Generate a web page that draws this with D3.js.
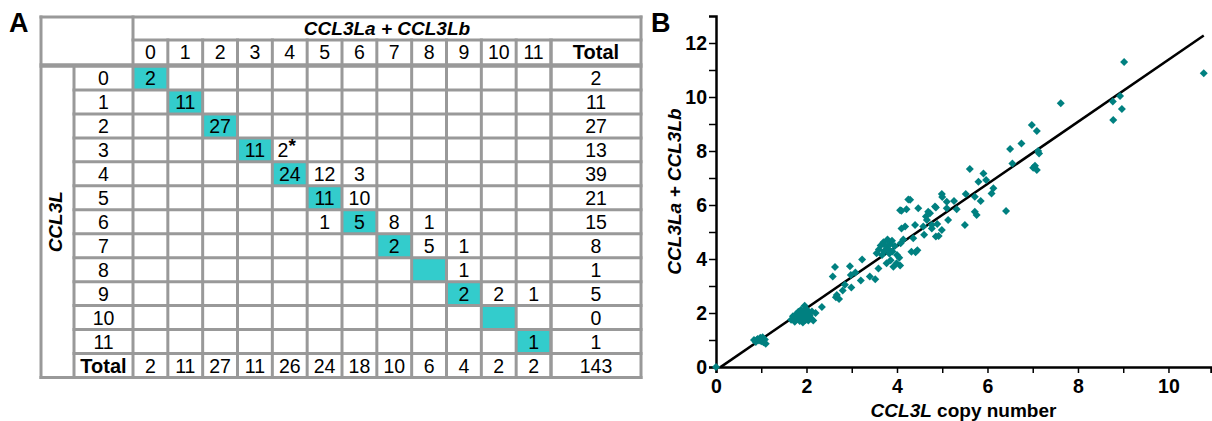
<!DOCTYPE html>
<html>
<head>
<meta charset="utf-8">
<script src="https://cdn.jsdelivr.net/npm/d3@7"></script>
<style>
body { margin: 0; background: #fff; }
text { font-family: "Liberation Sans", Arial, Helvetica, sans-serif; }
</style>
</head>
<body>
<svg></svg>
<script>
var screen = {width: 1212, height: 421};

// panel A: CCL3L vs CCL3La + CCL3Lb cross table
var colLabels = ["0", "1", "2", "3", "4", "5", "6", "7", "8", "9", "10", "11"];
var rowLabels = ["0", "1", "2", "3", "4", "5", "6", "7", "8", "9", "10", "11"];
// [row, col, count]
var cellCounts = [
    [0, 0, "2"], [1, 1, "11"], [2, 2, "27"], [3, 3, "11"], [3, 4, "2"],
    [4, 4, "24"], [4, 5, "12"], [4, 6, "3"], [5, 5, "11"], [5, 6, "10"],
    [6, 5, "1"], [6, 6, "5"], [6, 7, "8"], [6, 8, "1"],
    [7, 7, "2"], [7, 8, "5"], [7, 9, "1"], [8, 9, "1"],
    [9, 9, "2"], [9, 10, "2"], [9, 11, "1"], [11, 11, "1"]
];
var starredCells = [[3, 4]];
var rowTotals = [2, 11, 27, 13, 39, 21, 15, 8, 1, 5, 0, 1];
var colTotals = [2, 11, 27, 11, 26, 24, 18, 10, 6, 4, 2, 2];
var grandTotal = 143;

// panel B: CCL3L copy number vs CCL3La + CCL3Lb
var samples = [
    [0, 0],
    [0.84, 1.0], [0.88, 0.93], [0.92, 1.04], [0.95, 0.98], [0.98, 1.08], [1.0, 0.95],
    [1.03, 1.1], [1.05, 0.92], [1.08, 1.02], [1.1, 0.86], [0.9, 1.0],
    [1.66, 1.75], [1.7, 1.88], [1.74, 1.68], [1.77, 1.95], [1.8, 1.78], [1.82, 2.05],
    [1.85, 1.7], [1.86, 1.86], [1.88, 2.0], [1.9, 1.78], [1.92, 1.65], [1.93, 1.92],
    [1.95, 2.1], [1.96, 2.27], [1.98, 1.74], [1.99, 1.96], [2.01, 1.84], [2.0, 2.14],
    [2.04, 1.72], [2.06, 2.02], [2.07, 1.9], [2.1, 1.8], [2.12, 2.06], [2.15, 1.72],
    [2.2, 2.0], [2.34, 2.22], [1.88, 2.12],
    [2.58, 3.35], [2.63, 3.7], [2.67, 2.67], [2.72, 2.52], [2.8, 2.83], [2.96, 3.73],
    [2.98, 3.41], [2.99, 2.94], [3.2, 3.2], [3.23, 3.98], [2.65, 2.58], [3.08, 3.5], [2.85, 3.05],
    [3.4, 3.35], [3.52, 3.25], [3.59, 3.65], [3.55, 4.21], [3.6, 4.35], [3.64, 4.5],
    [3.67, 4.15], [3.7, 4.62], [3.72, 4.3], [3.75, 4.48], [3.77, 3.84], [3.79, 4.72],
    [3.8, 4.38], [3.83, 4.2], [3.85, 4.56], [3.86, 3.95], [3.89, 4.68], [3.9, 4.28],
    [3.92, 3.71], [3.95, 4.48], [3.99, 3.84], [4.0, 4.15], [4.05, 4.05], [4.07, 3.76],
    [4.08, 4.58], [4.1, 5.13], [4.14, 4.72], [4.18, 5.2], [4.07, 5.81], [4.21, 5.84],
    [4.25, 6.2], [4.29, 6.19], [4.1, 5.79], [4.32, 4.27], [4.36, 4.77], [4.41, 4.25],
    [4.4, 5.26], [4.45, 4.32], [4.47, 5.88],
    [4.58, 5.2], [4.64, 5.57], [4.66, 5.44], [4.69, 5.75], [4.73, 5.69], [4.77, 5.13],
    [4.77, 5.26], [4.84, 5.94], [4.86, 4.83], [4.86, 5.91], [4.89, 5.3], [4.92, 4.85],
    [4.99, 5.07], [4.99, 6.41], [5.1, 6.12], [5.1, 5.88], [5.13, 5.44], [5.26, 6.15],
    [5.32, 5.84], [5.0, 6.3], [4.6, 4.9],
    [5.5, 5.26], [5.52, 6.41], [5.61, 7.33], [5.72, 6.31], [5.72, 5.75], [5.76, 5.63],
    [5.8, 6.86], [5.85, 6.15], [5.91, 7.17], [5.97, 6.93], [6.09, 6.43], [6.13, 6.62],
    [6.41, 5.78], [6.5, 8.07], [6.55, 7.54],
    [6.75, 8.28], [6.98, 8.96], [7.09, 8.74], [7.14, 7.91], [7.01, 7.38], [7.09, 7.3],
    [7.05, 7.45], [7.12, 8.0],
    [7.62, 9.77],
    [8.77, 9.83], [8.78, 9.15], [8.93, 10.04], [8.97, 9.56], [9.02, 11.3],
    [10.78, 10.88]
];
var fitSlope = 1.15;
var fitIntercept = -0.12;
var fitRange = [0.1, 10.78];
var xTicks = [0, 1, 2, 3, 4, 5, 6, 7, 8, 9, 10];
var yTicks = [0, 1, 2, 3, 4, 5, 6, 7, 8, 9, 10, 11, 12];

var svg = d3.select("svg")
    .attr("width", screen.width)
    .attr("height", screen.height);

var drawTable = function()
{
    var g = svg.append("g").attr("id", "table");
    var left = 41, rowLabX = 74, colStart = 133, colEnd = 551, right = 641;
    var top = 17, headTop = 40, bodyTop = 66, bodyEnd = 353.5, bottom = 377.5;

    var tx = d3.scaleBand().domain(colLabels).range([colStart, colEnd]);
    var ty = d3.scaleBand().domain(rowLabels).range([bodyTop, bodyEnd]);
    var cw = tx.bandwidth(), ch = ty.bandwidth();

    // diagonal highlight
    g.selectAll("rect.diag")
    .data(colLabels)
    .enter()
    .append("rect")
    .attr("class", "diag")
    .attr("x", function(d){ return tx(d); })
    .attr("y", function(d){ return ty(d); })
    .attr("width", cw)
    .attr("height", ch)
    .attr("fill", "#33cccc");

    // grid lines
    var hLines = [[top, left, right, 3], [headTop, colStart, right, 3], [bodyTop - 0.5, left, right, 4.5]];
    rowLabels.slice(1).forEach(function(r){ hLines.push([ty(r), rowLabX, right, 3]); });
    hLines.push([bodyEnd, rowLabX, right, 3]);
    hLines.push([bottom, left, right, 3]);

    var vLines = [[left, top, bottom, 3], [rowLabX, bodyTop, bottom, 3], [colStart, top, bottom, 3]];
    colLabels.slice(1).forEach(function(c){ vLines.push([tx(c), headTop, bottom, 3]); });
    vLines.push([colEnd, headTop, bottom, 3.5]);
    vLines.push([right, top, bottom, 3]);

    g.selectAll("line.h")
    .data(hLines)
    .enter()
    .append("line")
    .attr("x1", function(d){ return d[1] - 1.5; })
    .attr("x2", function(d){ return d[2] + 1.5; })
    .attr("y1", function(d){ return d[0]; })
    .attr("y2", function(d){ return d[0]; })
    .attr("stroke", "#999")
    .attr("stroke-width", function(d){ return d[3]; });

    g.selectAll("line.v")
    .data(vLines)
    .enter()
    .append("line")
    .attr("x1", function(d){ return d[0]; })
    .attr("x2", function(d){ return d[0]; })
    .attr("y1", function(d){ return d[1] - 1.5; })
    .attr("y2", function(d){ return d[2] + 1.5; })
    .attr("stroke", "#999")
    .attr("stroke-width", function(d){ return d[3]; });

    // titles
    g.append("text")
    .attr("x", (colStart + right) / 2)
    .attr("y", 35)
    .attr("text-anchor", "middle")
    .style("font-size", "19px")
    .style("font-weight", "bold")
    .style("font-style", "italic")
    .text("CCL3La + CCL3Lb");

    g.append("text")
    .attr("transform", "translate(62," + ((bodyTop + bottom) / 2) + ") rotate(-90)")
    .attr("text-anchor", "middle")
    .style("font-size", "19px")
    .style("font-weight", "bold")
    .style("font-style", "italic")
    .text("CCL3L");

    var txt = function(x, y, s, bold)
    {
        return g.append("text")
        .attr("x", x)
        .attr("y", y)
        .attr("text-anchor", "middle")
        .style("font-size", bold ? "20px" : "19.5px")
        .style("font-weight", bold ? "bold" : "normal")
        .text(s);
    }

    colLabels.forEach(function(c){ txt(tx(c) + cw / 2, 58.5, c); });
    txt((colEnd + right) / 2, 58.5, "Total", true);

    rowLabels.forEach(function(r, i){
        txt((rowLabX + colStart) / 2, ty(r) + ch / 2 + 7, r);
        txt((colEnd + right) / 2, ty(r) + ch / 2 + 7, rowTotals[i]);
    });

    var totY = (bodyEnd + bottom) / 2 + 7;
    txt((rowLabX + colStart) / 2, totY, "Total", true);
    colLabels.forEach(function(c, i){ txt(tx(c) + cw / 2, totY, colTotals[i]); });
    txt((colEnd + right) / 2, totY, grandTotal);

    cellCounts.forEach(function(d){
        var starred = starredCells.some(function(s){ return s[0] == d[0] && s[1] == d[1]; });
        var t = txt(tx(colLabels[d[1]]) + cw / 2 - (starred ? 3 : 0), ty(rowLabels[d[0]]) + ch / 2 + 7, d[2]);
        if(starred)
        {
            t.append("tspan")
            .attr("dy", -5)
            .style("font-weight", "bold")
            .style("font-size", "19px")
            .text("*");
        }
    });

    svg.append("text")
    .attr("x", 9)
    .attr("y", 32)
    .style("font-size", "27px")
    .style("font-weight", "bold")
    .text("A");
}

var drawScatter = function()
{
    var g = svg.append("g").attr("id", "scatter");
    var xScale = d3.scaleLinear().domain([0, 10.94]).range([716, 1211]);
    var yScale = d3.scaleLinear().domain([0, 13]).range([367, 16]);

    var xAxis = d3.axisBottom(xScale).tickValues(xTicks).tickSizeOuter(0).tickSize(6).tickPadding(6)
        .tickFormat(function(d){ return d % 2 == 0 ? d : ""; });
    var yAxis = d3.axisLeft(yScale).tickValues(yTicks).tickSizeOuter(0).tickSize(7).tickPadding(2)
        .tickFormat(function(d){ return d % 2 == 0 ? d : ""; });

    var gx = g.append("g")
    .attr("transform", "translate(0," + yScale(0) + ")")
    .call(xAxis);

    var gy = g.append("g")
    .attr("transform", "translate(" + xScale(0) + ",0)")
    .call(yAxis);

    [gx, gy].forEach(function(a){
        a.select(".domain").attr("stroke", "#000").attr("stroke-width", 2.5);
        a.selectAll(".tick line").attr("stroke", "#000").attr("stroke-width", 1.5);
        a.selectAll(".tick text")
        .attr("fill", "#000")
        .style("font-family", "'Liberation Sans', Arial, sans-serif")
        .style("font-size", "19.5px")
        .style("font-weight", "bold");
    });

    var line = d3.line()
    .x(function(d){ return xScale(d); })
    .y(function(d){ return yScale(fitSlope * d + fitIntercept); });

    g.append("path")
    .datum(fitRange)
    .attr("d", line)
    .attr("fill", "none")
    .attr("stroke", "#000")
    .attr("stroke-width", 2.5);

    g.selectAll("path.pt")
    .data(samples)
    .enter()
    .append("path")
    .attr("class", "pt")
    .attr("d", d3.symbol(d3.symbolSquare, 32))
    .attr("transform", function(d){ return "translate(" + xScale(d[0]) + "," + yScale(d[1]) + ") rotate(45)"; })
    .attr("fill", "#008080");

    g.append("text")
    .attr("x", (716 + 1211) / 2)
    .attr("y", 417)
    .attr("text-anchor", "middle")
    .style("font-size", "19px")
    .style("font-weight", "bold")
    .call(function(t){
        t.append("tspan").style("font-style", "italic").text("CCL3L");
        t.append("tspan").text(" copy number");
    });

    g.append("text")
    .attr("transform", "translate(681," + ((16 + 367) / 2) + ") rotate(-90)")
    .attr("text-anchor", "middle")
    .style("font-size", "19px")
    .style("font-weight", "bold")
    .style("font-style", "italic")
    .text("CCL3La + CCL3Lb");

    svg.append("text")
    .attr("x", 651)
    .attr("y", 32)
    .style("font-size", "27px")
    .style("font-weight", "bold")
    .text("B");
}

drawTable();
drawScatter();
</script>
</body>
</html>
